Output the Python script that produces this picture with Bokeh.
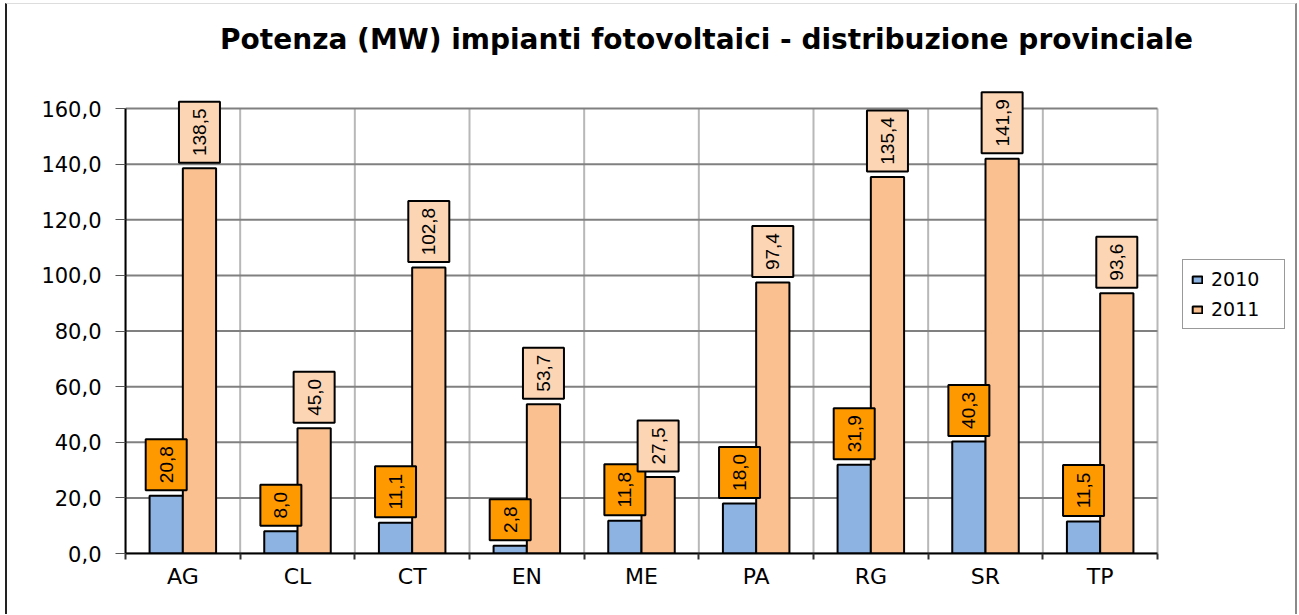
from bokeh.plotting import figure
from bokeh.models import ColumnDataSource, FixedTicker, Legend, LegendItem
from bokeh.transform import dodge
from bokeh.embed import file_html
from bokeh.resources import INLINE

# ---- data ----
categories = ["AG", "CL", "CT", "EN", "ME", "PA", "RG", "SR", "TP"]
values_2010 = [20.8, 8.0, 11.1, 2.8, 11.8, 18.0, 31.9, 40.3, 11.5]
values_2011 = [138.5, 45.0, 102.8, 53.7, 27.5, 97.4, 135.4, 141.9, 93.6]
y_ticks = [0, 20, 40, 60, 80, 100, 120, 140, 160]
series_labels = ["2010", "2011"]
title_text = "Potenza (MW) impianti fotovoltaici - distribuzione provinciale"

def fmt(v):
    return f"{v:.1f}".replace(".", ",")

# ---- layout constants (pixels) ----
LEFT, BOTTOM_BORDER = 118, 61
PLOT_W = 1032                        # pixels spanned by the categories
FRAME_W = 1170                       # frame extends to the canvas right edge (room for title/legend)
PLOT_H = 445                         # pixels from 0 to the top tick
FRAME_H = 549                        # frame extends up to the canvas top
PPU = PLOT_H / y_ticks[-1]           # pixels per data unit on y
PPX = PLOT_W / len(categories)       # pixels per category
Y_MAX_VIEW = FRAME_H / PPU
X_MIN = -0.5
X_MAX_PLOT = len(categories) - 0.5
X_MAX_VIEW = X_MIN + FRAME_W / PPX
GAP = 5.5                            # px between bar top and label box
BOX_W = 41
TITLE_CX, TITLE_CY = 699, 35         # title centre, canvas pixels

def box_h(t):
    return 11 + 10 * len(t)

idx = list(range(len(categories)))
t2010 = [fmt(v) for v in values_2010]
t2011 = [fmt(v) for v in values_2011]
src = ColumnDataSource(dict(
    i=idx,
    v2010=values_2010,
    v2011=values_2011,
    t2010=t2010,
    t2011=t2011,
    h2010=[box_h(t) for t in t2010],
    h2011=[box_h(t) for t in t2011],
    yc2010=[v + (GAP + box_h(t) / 2) / PPU for v, t in zip(values_2010, t2010)],
    yc2011=[v + (GAP + box_h(t) / 2) / PPU for v, t in zip(values_2011, t2011)],
))

p = figure(frame_width=FRAME_W, frame_height=FRAME_H, output_backend="svg", toolbar_location=None,
           x_range=(X_MIN, X_MAX_VIEW), y_range=(0, Y_MAX_VIEW),
           min_border_left=LEFT, min_border_right=0, min_border_top=0,
           min_border_bottom=BOTTOM_BORDER,
           background_fill_color="white", border_fill_color="white")
p.outline_line_color = None
p.styles = {"margin-left": "5px", "margin-top": "3px",
            "border-left": "2px solid #222222", "border-right": "2px solid #8a8a8a",
            "border-top": "1px solid #dddddd"}

# gridlines (limited to the plot area)
bounds = [i - 0.5 for i in range(len(categories) + 1)]
p.segment(x0=bounds, y0=[y_ticks[0]] * len(bounds), x1=bounds, y1=[y_ticks[-1]] * len(bounds),
          line_color="#b8b8b8", line_width=2)
p.segment(x0=[X_MIN] * len(y_ticks), y0=y_ticks, x1=[X_MAX_PLOT] * len(y_ticks), y1=y_ticks,
          line_color="#808080", line_width=2)

bw = 0.29
r1 = p.vbar(x=dodge("i", -bw / 2), top="v2010", width=bw, source=src,
            fill_color="#8DB3E2", line_color="black", line_width=2)
r2 = p.vbar(x=dodge("i", bw / 2), top="v2011", width=bw, source=src,
            fill_color="#FAC090", line_color="black", line_width=2)

# data label boxes
p.rect(x=dodge("i", -bw / 2), y="yc2010", width=BOX_W, height="h2010",
       width_units="screen", height_units="screen", source=src,
       fill_color="#FF9900", line_color="black", line_width=2)
p.rect(x=dodge("i", bw / 2), y="yc2011", width=BOX_W, height="h2011",
       width_units="screen", height_units="screen", source=src,
       fill_color="#FCD5B5", line_color="black", line_width=2)
txt = dict(source=src, angle=1.5708, text_align="center", text_baseline="middle",
           text_font={"value": "Liberation Sans"}, text_font_size={"value": "19px"},
           text_color="black")
p.text(x=dodge("i", -bw / 2), y="yc2010", text="t2010", **txt)
p.text(x=dodge("i", bw / 2), y="yc2011", text="t2011", **txt)

# title (drawn inside the extended frame area)
p.text(x=[X_MIN + (TITLE_CX - LEFT) / PPX], y=[(FRAME_H - TITLE_CY) / PPU], text=[title_text],
       text_align="center", text_baseline="middle",
       text_font={"value": "DejaVu Sans"}, text_font_style="bold",
       text_font_size={"value": "28px"}, text_color="black")

# axes
p.yaxis.bounds = (y_ticks[0], y_ticks[-1])
p.yaxis.ticker = FixedTicker(ticks=y_ticks)
p.yaxis.major_label_overrides = {t: fmt(t) for t in y_ticks}
p.yaxis.major_tick_out = 10
p.yaxis.major_tick_in = 0
p.yaxis.minor_tick_out = 0
p.yaxis.minor_tick_in = 0
p.yaxis.major_label_standoff = 14
p.yaxis.axis_line_color = "black"
p.yaxis.axis_line_width = 2
p.yaxis.major_tick_line_color = "#555555"
p.yaxis.major_label_text_font = "DejaVu Sans"
p.yaxis.major_label_text_font_size = "21px"
p.yaxis.major_label_text_color = "black"

p.xaxis.bounds = (X_MIN, X_MAX_PLOT)
p.xaxis.ticker = FixedTicker(ticks=idx, minor_ticks=bounds)
p.xaxis.major_label_overrides = {i: c for i, c in zip(idx, categories)}
p.xaxis.major_tick_out = 0
p.xaxis.major_tick_in = 0
p.xaxis.minor_tick_out = 6
p.xaxis.minor_tick_in = 0
p.xaxis.minor_tick_line_color = "#333333"
p.xaxis.minor_tick_line_width = 2
p.xaxis.major_label_standoff = 4
p.xaxis.axis_line_color = "black"
p.xaxis.axis_line_width = 2
p.xaxis.major_label_text_font = "DejaVu Sans"
p.xaxis.major_label_text_font_size = "22px"
p.xaxis.major_label_text_color = "black"

p.xgrid.visible = False
p.ygrid.visible = False

legend = Legend(items=[LegendItem(label=series_labels[0], renderers=[r1]),
                       LegendItem(label=series_labels[1], renderers=[r2])],
                location=(LEFT + PLOT_W + 25 - LEFT, 224), orientation="vertical",
                label_text_font="DejaVu Sans", label_text_font_size="19px",
                label_text_color="black",
                glyph_width=12, glyph_height=9, label_standoff=8, label_width=65,
                padding=8, spacing=8, label_height=16, margin=0,
                border_line_color="#333333", border_line_width=1,
                background_fill_color="white")
p.add_layout(legend)

open("out.html", "w").write(file_html(p, INLINE))
